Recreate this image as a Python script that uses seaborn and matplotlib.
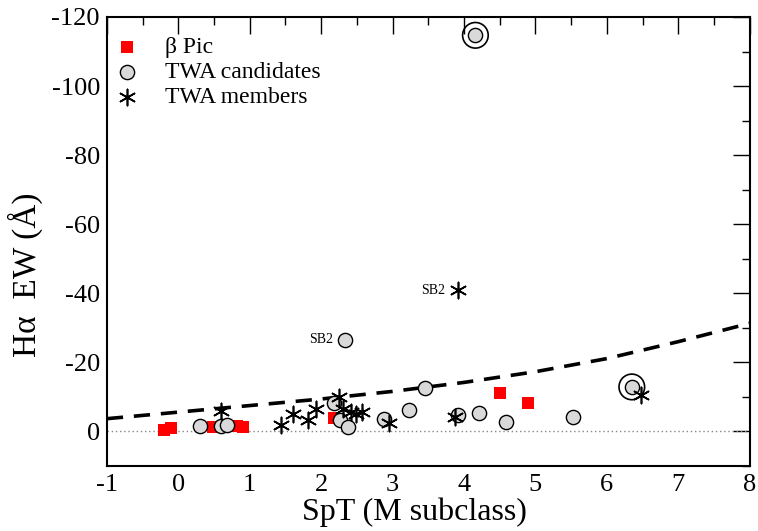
import matplotlib
matplotlib.use("Agg")
import matplotlib.pyplot as plt
import seaborn as sns
import pandas as pd
from matplotlib.ticker import MultipleLocator

# ---- data ----
bpic_x = [-0.2, -0.1, 0.48, 0.82, 0.9, 2.18, 4.5, 4.9]
bpic_y = [-0.4, -0.9, -1.4, -1.6, -1.4, -4.0, -11.2, -8.3]

cand_x = [0.31, 0.6, 0.68, 2.18, 2.27, 2.34, 2.37, 2.88, 3.23, 3.46, 3.91, 4.16, 4.21, 4.59, 5.52, 6.35]
cand_y = [-1.7, -1.7, -2.0, -8.1, -3.3, -26.5, -1.2, -3.5, -6.1, -12.6, -4.7, -114.7, -5.3, -2.8, -4.2, -12.9]

memb_x = [0.6, 1.44, 1.61, 1.82, 1.93, 2.25, 2.31, 2.42, 2.49, 2.57, 2.95, 3.87, 3.91, 6.48]
memb_y = [-5.8, -1.8, -5.2, -3.3, -6.5, -10.0, -6.5, -5.7, -5.2, -5.7, -2.5, -4.2, -40.9, -10.7]

ring_x = [4.16, 6.35]
ring_y = [-114.7, -12.9]

curve_x = [-1, 0, 1, 2, 3, 4, 5, 6, 7, 8]
curve_y = [-3.7, -5.6, -7.5, -9.4, -11.6, -14.2, -17.3, -21.1, -26.0, -31.3]

sb2_labels = ["SB2", "SB2"]
sb2_x = [3.91, 2.34]
sb2_y = [-40.9, -26.5]

xticks = [-1, 0, 1, 2, 3, 4, 5, 6, 7, 8]
yticks = [-120, -100, -80, -60, -40, -20, 0]

# ---- plotting ----
sns.set_theme(style="white")
plt.rcParams['font.family'] = ['Liberation Serif', 'DejaVu Serif']
plt.rcParams['text.color'] = 'black'
plt.rcParams['axes.labelcolor'] = 'black'

fig = plt.figure(figsize=(7.58, 5.31), dpi=100)
ax = fig.add_axes([0.141, 0.1224, 0.848, 0.8456])

df_curve = pd.DataFrame({"x": curve_x, "y": curve_y})
sns.lineplot(data=df_curve, x="x", y="y", ax=ax, color="black", lw=2.6,
             linestyle=(0, (4.5, 3)), zorder=2)
ax.axhline(0, color="#888888", lw=1.0, linestyle=(0, (1, 2)), zorder=1)

df_b = pd.DataFrame({"x": bpic_x, "y": bpic_y})
df_c = pd.DataFrame({"x": cand_x, "y": cand_y})
df_m = pd.DataFrame({"x": memb_x, "y": memb_y})
df_r = pd.DataFrame({"x": ring_x, "y": ring_y})

sns.scatterplot(data=df_b, x="x", y="y", ax=ax, marker="s", color="#ff0000",
                s=78, edgecolor="#ff0000", linewidth=0, label="β Pic", zorder=3)
sns.scatterplot(data=df_c, x="x", y="y", ax=ax, marker="o", color="#d9d9d9",
                s=105, edgecolor="black", linewidth=1.0, label="TWA candidates", zorder=4)
sns.scatterplot(data=df_r, x="x", y="y", ax=ax, marker="o", facecolor="none",
                s=340, edgecolor="black", linewidth=1.2, zorder=4)
sns.scatterplot(data=df_m, x="x", y="y", ax=ax, marker=(6, 2, 0), color="black",
                s=135, linewidth=1.2, label="TWA members", zorder=5)

for t, x, y in zip(sb2_labels, sb2_x, sb2_y):
    ax.annotate(t, (x, y), xytext=(-9, 0), textcoords="offset points",
                ha="right", va="center", fontsize=10, color="black")

ax.set_xlim(-1, 8)
ax.set_ylim(10, -120)
ax.set_xticks(xticks)
ax.set_yticks(yticks)
ax.set_xticklabels([str(v) for v in xticks])
ax.set_yticklabels([str(v) for v in yticks])
ax.xaxis.set_minor_locator(MultipleLocator(0.5))
ax.yaxis.set_minor_locator(MultipleLocator(10))
ax.tick_params(which="both", direction="in", top=True, right=True,
               labelsize=19, colors="black", labelcolor="black", width=1.0)
ax.tick_params(axis="x", which="major", length=12, pad=6)
ax.tick_params(axis="y", which="major", length=12, pad=5)
ax.tick_params(which="minor", length=6)
for s in ax.spines.values():
    s.set_color("black")
    s.set_linewidth(1.5)

ax.set_xlabel("SpT (M subclass)", fontsize=23)
ax.xaxis.set_label_coords(0.479, -0.07)
ax.set_ylabel("Hα  EW (Å)", fontsize=24)
ax.yaxis.set_label_coords(-0.10, 0.425)

leg = ax.legend(loc="upper left", bbox_to_anchor=(-0.035, 1.02), frameon=False,
                fontsize=17, handletextpad=1.0, labelspacing=0.15,
                borderaxespad=0.9, handlelength=1.2, borderpad=0.3)
for txt in leg.get_texts():
    txt.set_color("black")

fig.savefig("out.png", dpi=100)
